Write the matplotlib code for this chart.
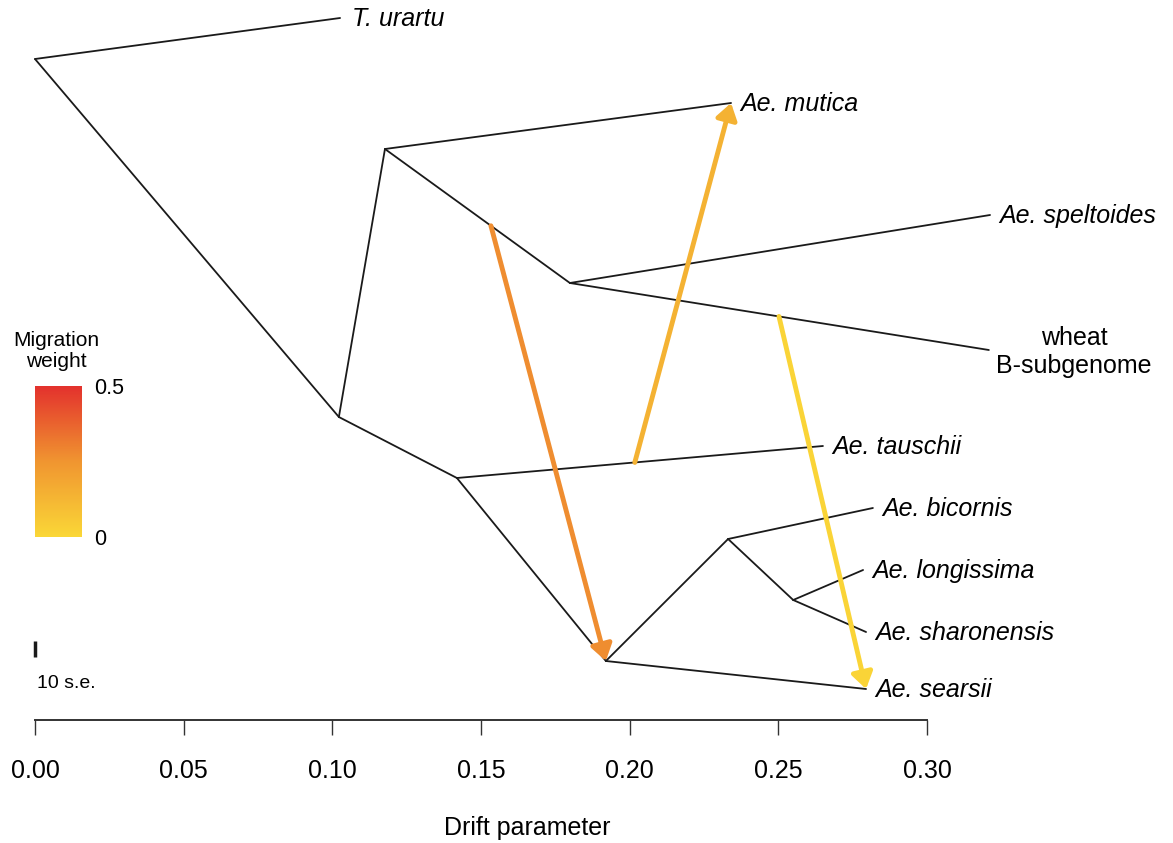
import matplotlib.pyplot as plt
from matplotlib.colors import LinearSegmentedColormap, Normalize
from matplotlib.cm import ScalarMappable
from matplotlib.patches import FancyArrowPatch

plt.rcParams['font.family'] = ['Liberation Sans', 'DejaVu Sans']

# tree nodes: drift parameter (x) and vertical layout position (y, rows from the top)
node_names = ['root', 'T. urartu', 'n1', 'n2', 'Ae. mutica', 'n3', 'Ae. speltoides',
              'wheat\nB-subgenome', 'n4', 'Ae. tauschii', 'n5', 'n6', 'Ae. bicornis',
              'n7', 'Ae. longissima', 'Ae. sharonensis', 'Ae. searsii']
node_drift = [0.0, 0.1026, 0.1022, 0.1177, 0.2341, 0.1799, 0.3212,
              0.3208, 0.1419, 0.2650, 0.1920, 0.2331, 0.2818,
              0.2550, 0.2785, 0.2795, 0.2795]
node_y = [59, 18, 417, 149, 103, 283, 215,
          350, 478, 446, 661, 539, 508,
          600, 570, 632, 689]
parent = [None, 0, 0, 2, 3, 3, 5,
          5, 2, 8, 8, 10, 11,
          11, 13, 13, 10]

# migration edges: (source edge child, fraction along edge) -> target node, weight
mig_from_edge = [5, 9, 7]
mig_from_frac = [0.573, 0.486, 0.499]
mig_to = [10, 4, 16]
mig_weight = [0.27, 0.14, 0.01]

ticks = [0.00, 0.05, 0.10, 0.15, 0.20, 0.25, 0.30]
tick_labels = ['0.00', '0.05', '0.10', '0.15', '0.20', '0.25', '0.30']

cmap = LinearSegmentedColormap.from_list('mig', ['#FAD737', '#F09530', '#E3312D'])
norm = Normalize(0, 0.5)

fig = plt.figure(figsize=(11.73, 8.43), dpi=100)
ax = fig.add_axes([0, 0, 1, 1])
scale = 0.30 / 892
ax.set_xlim(-35 * scale, (1173 - 35) * scale)
ax.set_ylim(843, 0)

# branches
for i, p in enumerate(parent):
    if p is None:
        continue
    ax.plot([node_drift[p], node_drift[i]], [node_y[p], node_y[i]],
            color='#1a1a1a', lw=1.3, solid_capstyle='round', zorder=2)

# tip labels
for i, name in enumerate(node_names):
    if name.startswith('root') or name.startswith('n'):
        continue
    if name.startswith('wheat'):
        ax.text((1074 - 35) * scale, node_y[i] + 2, name, ha='center', va='center',
                fontsize=18, linespacing=1.25)
        continue
    off = 0.0032 if name != 'T. urartu' else 0.0040
    ax.text(node_drift[i] + off, node_y[i] + 1, name, ha='left', va='center',
            fontsize=18, style='italic')

# migration arrows
for e, f, t, w in zip(mig_from_edge, mig_from_frac, mig_to, mig_weight):
    p = parent[e]
    x0 = node_drift[p] + f * (node_drift[e] - node_drift[p])
    y0 = node_y[p] + f * (node_y[e] - node_y[p])
    arr = FancyArrowPatch((x0, y0), (node_drift[t], node_y[t]),
                          arrowstyle='-|>,head_length=6,head_width=4',
                          color=cmap(norm(w)), lw=3.5, shrinkA=0, shrinkB=0,
                          mutation_scale=1.6, zorder=3)
    ax.add_patch(arr)

# drift axis
for s in ['top', 'right', 'left']:
    ax.spines[s].set_visible(False)
ax.spines['bottom'].set_position(('data', 720))
ax.spines['bottom'].set_bounds(0, 0.30)
ax.spines['bottom'].set_color('#333333')
ax.spines['bottom'].set_linewidth(1.4)
ax.set_xticks(ticks)
ax.set_xticklabels(tick_labels, fontsize=18)
ax.tick_params(axis='x', direction='out', length=11, width=1, color='#333333', pad=17)
ax.set_yticks([])
ax.text(0.1655, 828, 'Drift parameter', ha='center', va='center', fontsize=18)

# standard error scale bar
ax.plot([0, 0], [641, 657], color='#1a1a1a', lw=2.5, solid_capstyle='butt')
ax.text(0.0007, 683, '10 s.e.', ha='left', va='center', fontsize=14)

# migration weight colour bar
cax = fig.add_axes([35 / 1173, 1 - 537 / 843, 47 / 1173, 151 / 843])
cb = fig.colorbar(ScalarMappable(norm=norm, cmap=cmap), cax=cax, ticks=[0, 0.5])
cb.outline.set_visible(False)
cb.ax.set_yticklabels(['0', '0.5'], fontsize=15.5)
cb.ax.tick_params(length=0, pad=9)
cax.text(0.45, 1.1, 'Migration\nweight', transform=cax.transAxes, ha='center',
         va='bottom', fontsize=15, linespacing=1.15)

fig.savefig('out.png', dpi=100)
